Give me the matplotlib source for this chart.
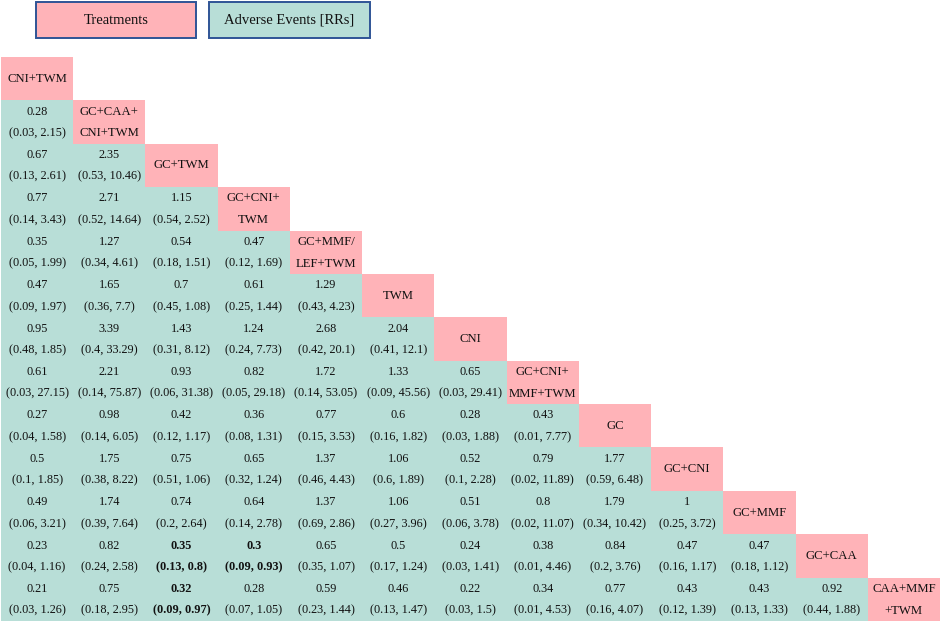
import matplotlib
matplotlib.use("Agg")
import matplotlib.pyplot as plt
from matplotlib.patches import Rectangle

treatments = ["CNI+TWM", "GC+CAA+\nCNI+TWM", "GC+TWM", "GC+CNI+\nTWM", "GC+MMF/\nLEF+TWM",
              "TWM", "CNI", "GC+CNI+\nMMF+TWM", "GC", "GC+CNI", "GC+MMF", "GC+CAA", "CAA+MMF\n+TWM"]

# lower triangle: row i (i>=1), columns 0..i-1 ; (estimate, low, high)
rr_rows = [
    [],
    [(0.28, 0.03, 2.15)],
    [(0.67, 0.13, 2.61), (2.35, 0.53, 10.46)],
    [(0.77, 0.14, 3.43), (2.71, 0.52, 14.64), (1.15, 0.54, 2.52)],
    [(0.35, 0.05, 1.99), (1.27, 0.34, 4.61), (0.54, 0.18, 1.51), (0.47, 0.12, 1.69)],
    [(0.47, 0.09, 1.97), (1.65, 0.36, 7.7), (0.7, 0.45, 1.08), (0.61, 0.25, 1.44), (1.29, 0.43, 4.23)],
    [(0.95, 0.48, 1.85), (3.39, 0.4, 33.29), (1.43, 0.31, 8.12), (1.24, 0.24, 7.73), (2.68, 0.42, 20.1),
     (2.04, 0.41, 12.1)],
    [(0.61, 0.03, 27.15), (2.21, 0.14, 75.87), (0.93, 0.06, 31.38), (0.82, 0.05, 29.18), (1.72, 0.14, 53.05),
     (1.33, 0.09, 45.56), (0.65, 0.03, 29.41)],
    [(0.27, 0.04, 1.58), (0.98, 0.14, 6.05), (0.42, 0.12, 1.17), (0.36, 0.08, 1.31), (0.77, 0.15, 3.53),
     (0.6, 0.16, 1.82), (0.28, 0.03, 1.88), (0.43, 0.01, 7.77)],
    [(0.5, 0.1, 1.85), (1.75, 0.38, 8.22), (0.75, 0.51, 1.06), (0.65, 0.32, 1.24), (1.37, 0.46, 4.43),
     (1.06, 0.6, 1.89), (0.52, 0.1, 2.28), (0.79, 0.02, 11.89), (1.77, 0.59, 6.48)],
    [(0.49, 0.06, 3.21), (1.74, 0.39, 7.64), (0.74, 0.2, 2.64), (0.64, 0.14, 2.78), (1.37, 0.69, 2.86),
     (1.06, 0.27, 3.96), (0.51, 0.06, 3.78), (0.8, 0.02, 11.07), (1.79, 0.34, 10.42), (1, 0.25, 3.72)],
    [(0.23, 0.04, 1.16), (0.82, 0.24, 2.58), (0.35, 0.13, 0.8), (0.3, 0.09, 0.93), (0.65, 0.35, 1.07),
     (0.5, 0.17, 1.24), (0.24, 0.03, 1.41), (0.38, 0.01, 4.46), (0.84, 0.2, 3.76), (0.47, 0.16, 1.17),
     (0.47, 0.18, 1.12)],
    [(0.21, 0.03, 1.26), (0.75, 0.18, 2.95), (0.32, 0.09, 0.97), (0.28, 0.07, 1.05), (0.59, 0.23, 1.44),
     (0.46, 0.13, 1.47), (0.22, 0.03, 1.5), (0.34, 0.01, 4.53), (0.77, 0.16, 4.07), (0.43, 0.12, 1.39),
     (0.43, 0.13, 1.33), (0.92, 0.44, 1.88)],
]

bold_cells = [(11, 2), (11, 3), (12, 2)]

PINK = "#FFB3B8"
TEAL = "#B8DED7"
EDGE = "#2F5496"
TXT = "#111111"
FONT = "Liberation Serif"

W, H = 941, 624
fig = plt.figure(figsize=(W / 100, H / 100), dpi=100)

def fig_box(x0, y0, x1, y1, label, color):
    r = Rectangle((x0 / W, 1 - y1 / H), (x1 - x0) / W, (y1 - y0) / H, transform=fig.transFigure,
                  facecolor=color, edgecolor=EDGE, linewidth=1.4)
    fig.add_artist(r)
    fig.text((x0 + x1) / 2 / W, 1 - (y0 + y1) / 2 / H, label, ha="center", va="center",
             family=FONT, fontsize=10.5, color=TXT)

fig_box(36, 2, 196, 38, "Treatments", PINK)
fig_box(209, 2, 370, 38, "Adverse Events [RRs]", TEAL)

n = len(treatments)
gx0, gx1, gy0, gy1 = 1, 940, 57, 621
ax = fig.add_axes([gx0 / W, 1 - gy1 / H, (gx1 - gx0) / W, (gy1 - gy0) / H])
ax.set_xlim(0, n)
ax.set_ylim(n, 0)
ax.axis("off")

for i, name in enumerate(treatments):
    ax.add_patch(Rectangle((i, i), 1, 1, facecolor=PINK, edgecolor="none"))
    lines = name.split("\n")
    if len(lines) == 1:
        ax.text(i + 0.5, i + 0.5, name, ha="center", va="center", family=FONT, fontsize=9.2, color=TXT)
    else:
        ax.text(i + 0.5, i + 0.26, lines[0], ha="center", va="center", family=FONT, fontsize=9.2, color=TXT)
        ax.text(i + 0.5, i + 0.76, lines[1], ha="center", va="center", family=FONT, fontsize=9.2, color=TXT)
    for j, (est, lo, hi) in enumerate(rr_rows[i]):
        ax.add_patch(Rectangle((j, i), 1, 1, facecolor=TEAL, edgecolor="none"))
        fw = "bold" if (i, j) in bold_cells else "normal"
        ax.text(j + 0.5, i + 0.26, f"{est:g}", ha="center", va="center", family=FONT, fontsize=8.8,
                fontweight=fw, color=TXT)
        ax.text(j + 0.5, i + 0.76, f"({lo:g}, {hi:g})", ha="center", va="center", family=FONT,
                fontsize=8.8, fontweight=fw, color=TXT)

fig.savefig("out.png", dpi=100)
